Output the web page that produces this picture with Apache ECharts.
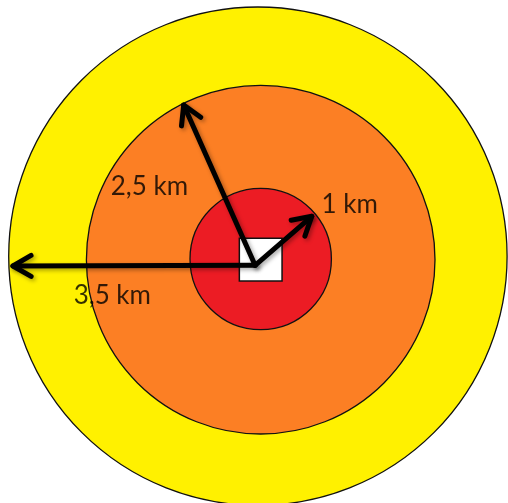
<!DOCTYPE html>
<html>
<head>
<meta charset="utf-8">
<script src="https://cdn.jsdelivr.net/npm/echarts@6/dist/echarts.min.js"></script>
<style>
html,body{margin:0;padding:0;background:#fff;}
#chart{width:508px;height:503px;}
</style>
</head>
<body>
<div id="chart"></div>
<script>
// Zones (km units, drawn to scale)
const zoneNames = ['3,5 km', '2,5 km', '1 km'];
const zoneCenterX = [-0.03, 0.01, 0.01];
const zoneCenterY = [0.04, -0.01, 0.0];
const zoneRadius = [3.56, 2.49, 1.01];

// Central site (square)
const siteCenterX = 0.01;
const siteCenterY = -0.01;
const siteSide = 0.61;

// Radius arrows
const arrowLabels = ['1 km', '2,5 km', '3,5 km'];
const arrowFromX = [-0.07, -0.07, -0.07];
const arrowFromY = [-0.09, -0.09, -0.09];
const arrowTipX = [0.74, -1.09, -3.53];
const arrowTipY = [0.61, 2.20, -0.10];
const labelX = [1.28, -1.58, -2.11];
const labelY = [0.77, 1.04, -0.53];

const zoneColors = ['#FFF100', '#FC7F24', '#EC1C24'];

const chart = echarts.init(document.getElementById('chart'), null, {renderer: 'canvas'});

const zoneData = zoneNames.map((n, i) => ({name: n, value: [zoneCenterX[i], zoneCenterY[i], zoneRadius[i]]}));
const arrowData = arrowLabels.map((n, i) => ({name: n, value: [arrowTipX[i], arrowTipY[i], arrowFromX[i], arrowFromY[i]]}));
const labelData = arrowLabels.map((n, i) => ({name: n, value: [labelX[i], labelY[i]]}));

const option = {
  animation: false,
  backgroundColor: '#ffffff',
  grid: {left: 0, right: 0, top: 0, bottom: 0},
  xAxis: {type: 'value', min: -260 / 70, max: 248 / 70, show: false},
  yAxis: {type: 'value', min: -(503 - 259) / 70, max: 259 / 70, show: false},
  series: [
    {
      type: 'custom',
      name: 'zones',
      coordinateSystem: 'cartesian2d',
      data: zoneData,
      encode: {x: 0, y: 1},
      renderItem: function (params, api) {
        const c = api.coord([api.value(0), api.value(1)]);
        const r = api.size([api.value(2), 0])[0];
        return {
          type: 'circle',
          shape: {cx: c[0], cy: c[1], r: r},
          style: {fill: zoneColors[params.dataIndex], stroke: '#111', lineWidth: 1.3}
        };
      },
      z: 1
    },
    {
      type: 'custom',
      name: 'site',
      coordinateSystem: 'cartesian2d',
      data: [[siteCenterX, siteCenterY, siteSide]],
      encode: {x: 0, y: 1},
      renderItem: function (params, api) {
        const c = api.coord([api.value(0), api.value(1)]);
        const s = api.size([api.value(2), 0])[0];
        return {
          type: 'rect',
          shape: {x: c[0] - s / 2, y: c[1] - s / 2, width: s, height: s},
          style: {fill: '#ffffff', stroke: '#111', lineWidth: 1.5}
        };
      },
      z: 2
    },
    {
      type: 'custom',
      name: 'arrows',
      coordinateSystem: 'cartesian2d',
      data: arrowData,
      encode: {x: [0, 2], y: [1, 3]},
      renderItem: function (params, api) {
        const tip = api.coord([api.value(0), api.value(1)]);
        const from = api.coord([api.value(2), api.value(3)]);
        const dx = from[0] - tip[0], dy = from[1] - tip[1];
        const L = Math.sqrt(dx * dx + dy * dy);
        const ux = dx / L, uy = dy / L;
        const a = 30 * Math.PI / 180, len = 21;
        const rot = (ang) => [tip[0] + len * (ux * Math.cos(ang) - uy * Math.sin(ang)),
                              tip[1] + len * (ux * Math.sin(ang) + uy * Math.cos(ang))];
        const p1 = rot(a), p2 = rot(-a);
        const style = {stroke: '#000', lineWidth: 5, lineCap: 'round', lineJoin: 'round', fill: null,
          shadowBlur: 4, shadowColor: 'rgba(0,0,0,0.35)', shadowOffsetX: 2, shadowOffsetY: 2};
        return {
          type: 'group',
          children: [
            {type: 'polyline', shape: {points: [from, tip]}, style: style},
            {type: 'polyline', shape: {points: [p1, tip, p2]}, style: style}
          ]
        };
      },
      z: 3
    },
    {
      type: 'scatter',
      name: 'labels',
      data: labelData,
      symbolSize: 0,
      label: {
        show: true,
        position: 'inside',
        formatter: '{b}',
        color: '#000',
        fontFamily: 'Lato',
        fontSize: 26
      },
      z: 4
    }
  ]
};
chart.setOption(option);
</script>
</body>
</html>
